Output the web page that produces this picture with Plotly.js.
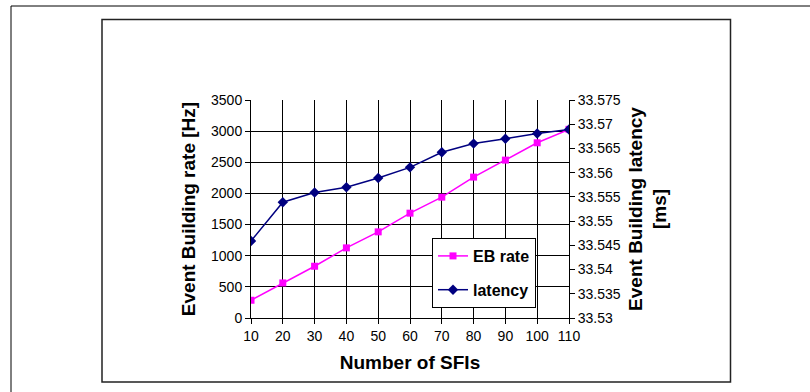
<!DOCTYPE html>
<html>
<head>
<meta charset="utf-8">
<script src="https://cdn.plot.ly/plotly-3.0.1.min.js"></script>
<style>
html,body{margin:0;padding:0;background:#fff;}
#chart{width:810px;height:392px;}
</style>
</head>
<body>
<div id="chart"></div>
<script>
const sfis = [10, 20, 30, 40, 50, 60, 70, 80, 90, 100, 110];
const ebRate = [285, 563, 831, 1126, 1383, 1683, 1940, 2262, 2535, 2813, 3029];
const latency = [33.5459, 33.5539, 33.5559, 33.5570, 33.5589, 33.5611, 33.5642, 33.5660, 33.5670, 33.5681, 33.5689];
const xTicks = [10, 20, 30, 40, 50, 60, 70, 80, 90, 100, 110];

const font = 'Arial, "Liberation Sans", sans-serif';

const traces = [
  {
    x: sfis, y: ebRate, name: 'EB rate', type: 'scatter', mode: 'lines+markers',
    line: {color: '#FF00FF', width: 1.5},
    marker: {symbol: 'square', size: 7, color: '#FF00FF'},
    legendgroup: 'a', yaxis: 'y'
  },
  {
    x: sfis, y: latency, name: 'latency', type: 'scatter', mode: 'lines+markers',
    line: {color: '#000080', width: 1.5},
    marker: {symbol: 'diamond', size: 8, color: '#000080'},
    legendgroup: 'b', yaxis: 'y2'
  }
];

// pixel -> paper helpers for frame shapes (plot area: x 251..569, y 100..318)
const W = 318, H = 218;
const px = v => (v - 251) / W;
const py = v => (318 - v) / H;

const layout = {
  width: 810, height: 392,
  margin: {l: 251, r: 241, t: 100, b: 74, pad: 0},
  paper_bgcolor: '#fff', plot_bgcolor: '#fff',
  font: {family: font, size: 14, color: '#000'},
  showlegend: true,
  legend: {
    x: px(432), y: py(238), xanchor: 'left', yanchor: 'top',
    bgcolor: '#fff', bordercolor: '#000', borderwidth: 1,
    font: {family: font, size: 16, color: '#000', weight: 'bold'},
    tracegroupgap: 10, traceorder: 'grouped'
  },
  xaxis: {
    range: [10, 110], tickvals: xTicks, ticktext: xTicks.map(String),
    showgrid: true, gridcolor: '#000', gridwidth: 1,
    showline: true, linecolor: '#000', linewidth: 1,
    ticks: 'outside', ticklen: 5, tickcolor: '#000',
    zeroline: false,
    tickfont: {family: font, size: 14},
    title: {text: 'Number of SFIs', font: {family: font, size: 19, weight: 'bold'}, standoff: 12}
  },
  yaxis: {
    range: [0, 3500], dtick: 500, tick0: 0,
    showgrid: true, gridcolor: '#000', gridwidth: 1,
    showline: true, linecolor: '#000', linewidth: 1,
    ticks: 'outside', ticklen: 5, tickcolor: '#000',
    zeroline: false,
    tickfont: {family: font, size: 14},
    title: {text: 'Event Building rate [Hz]', font: {family: font, size: 19, weight: 'bold'}, standoff: 10}
  },
  yaxis2: {
    overlaying: 'y', side: 'right',
    range: [33.53, 33.575], dtick: 0.005, tick0: 33.53,
    showgrid: false,
    showline: true, linecolor: '#000', linewidth: 1,
    ticks: 'outside', ticklen: 5, tickcolor: '#000',
    zeroline: false,
    tickfont: {family: font, size: 14},
    title: {text: 'Event Building latency<br>[ms]', font: {family: font, size: 19, weight: 'bold'}, standoff: 8}
  },
  shapes: [
    {type: 'rect', xref: 'paper', yref: 'paper', x0: px(11), x1: px(820), y0: py(400), y1: py(6),
     line: {color: '#000', width: 1}, fillcolor: 'rgba(0,0,0,0)', layer: 'below'},
    {type: 'rect', xref: 'paper', yref: 'paper', x0: px(102), x1: px(730.5), y0: py(382), y1: py(19.5),
     line: {color: '#222', width: 1.5}, fillcolor: 'rgba(0,0,0,0)', layer: 'below'}
  ]
};

Plotly.newPlot('chart', traces, layout, {displayModeBar: false, staticPlot: true});
</script>
</body>
</html>
